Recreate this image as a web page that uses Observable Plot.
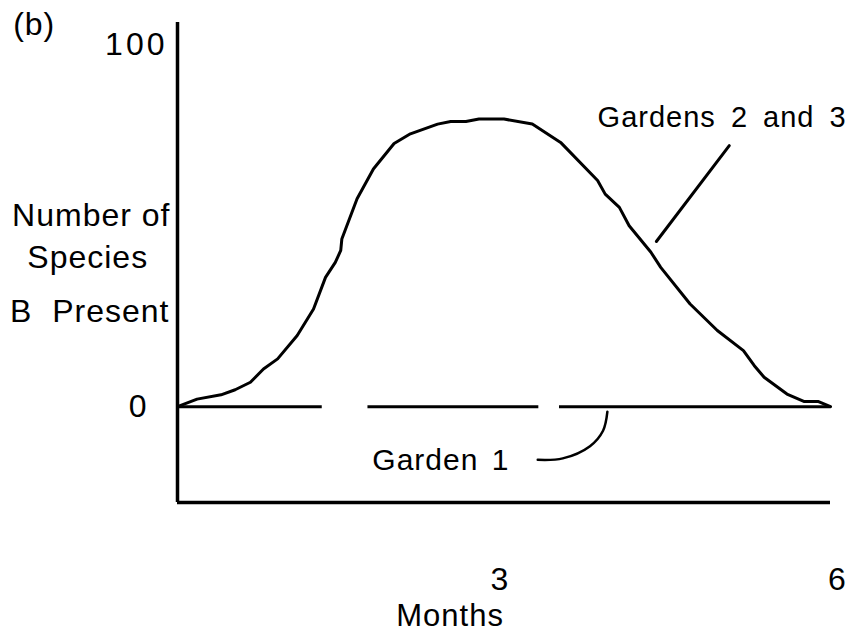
<!DOCTYPE html>
<html>
<head>
<meta charset="utf-8">
<script src="https://cdn.jsdelivr.net/npm/d3@7"></script>
<script src="https://cdn.jsdelivr.net/npm/@observablehq/plot@0.6"></script>
<style>
  html, body { margin: 0; padding: 0; background: #fff; }
  svg text { letter-spacing: 1px; }
</style>
</head>
<body>
<div id="chart"></div>
<script>
// Gardens 2 and 3: months vs number of species B present
const months = [0, 0.18, 0.40, 0.53, 0.67, 0.79, 0.92, 1.10, 1.25, 1.36, 1.45, 1.50, 1.51, 1.65, 1.80, 1.99, 2.14, 2.39, 2.51, 2.65, 2.77, 3.00, 3.26, 3.52, 3.86, 3.93, 4.06, 4.15, 4.35, 4.44, 4.71, 4.96, 5.20, 5.30, 5.39, 5.60, 5.76, 5.89, 6.0];
const species = [0, 2.1, 3.3, 4.7, 6.8, 10.5, 13.3, 19.8, 27.2, 36.0, 40.2, 43.5, 46.7, 57.9, 66.2, 73.3, 76.0, 78.7, 79.4, 79.4, 80.1, 80.1, 78.7, 73.6, 63.0, 59.2, 55.5, 50.4, 43.0, 38.8, 28.6, 21.2, 15.6, 11.4, 8.2, 3.5, 1.4, 1.4, 0];

// Garden 1: zero throughout, drawn as broken segments
const garden1Start = [0, 1.75, 3.51];
const garden1End = [1.33, 3.32, 6.0];

// Axis ticks
const xTicks = [3, 6];
const yTicks = [100, 0];

// Annotation leaders (data units)
const leader23X = [5.07, 4.40];
const leader23Y = [72.7, 46.0];
const leader1X = [3.31, 3.54, 3.79, 3.91, 3.95];
const leader1Y = [-14.8, -14.4, -11.0, -6.7, -1.4];

// Labels
const yLabelLines = ["Number of", "Species", "B Present"];
const yLabelX = [-1.52, -1.38, -1.54];
const yLabelY = [53.2, 41.5, 26.5];

const curve = months.map((m, i) => ({x: m, y: species[i]}));
const g1 = garden1Start.map((s, i) => ({x1: s, x2: garden1End[i]}));
const lead23 = leader23X.map((x, i) => ({x, y: leader23Y[i]}));
const lead1 = leader1X.map((x, i) => ({x, y: leader1Y[i]}));
const yLab = yLabelLines.map((t, i) => ({t, x: yLabelX[i], y: yLabelY[i]}));

const yMin = -26.7, yMax = 107;
const FS = 32;

const chart = Plot.plot({
  width: 848,
  height: 636,
  marginLeft: 177,
  marginRight: 18,
  marginTop: 22,
  marginBottom: 134,
  style: {fontFamily: "'Liberation Sans', Arial, sans-serif", fontSize: FS + "px", color: "#000", background: "#fff", overflow: "visible"},
  x: {domain: [0, 6]},
  y: {domain: [yMin, yMax]},
  marks: [
    Plot.ruleX([0], {y1: yMin, y2: yMax, stroke: "#000", strokeWidth: 3.5}),
    Plot.ruleY([yMin], {x1: 0, x2: 6, stroke: "#000", strokeWidth: 3.5}),
    Plot.axisX({ticks: [xTicks[0]], tickSize: 0, tickPadding: 65, dx: -4, label: null, fontSize: FS, tickFormat: d => String(d)}),
    Plot.axisX({ticks: [xTicks[1]], tickSize: 0, tickPadding: 65, dx: 7, label: null, fontSize: FS, tickFormat: d => String(d)}),
    Plot.axisY({ticks: [yTicks[0]], tickSize: 0, tickPadding: 10, dy: -3, label: null, fontSize: FS, tickFormat: d => String(d)}),
    Plot.axisY({ticks: [yTicks[1]], tickSize: 0, tickPadding: 30, label: null, fontSize: FS, tickFormat: d => String(d)}),
    Plot.ruleY(g1, {y: 0, x1: "x1", x2: "x2", stroke: "#000", strokeWidth: 3}),
    Plot.line(curve, {x: "x", y: "y", stroke: "#000", strokeWidth: 3, curve: "linear"}),
    Plot.line(lead23, {x: "x", y: "y", stroke: "#000", strokeWidth: 3}),
    Plot.line(lead1, {x: "x", y: "y", stroke: "#000", strokeWidth: 2.5, curve: "catmull-rom"}),
    Plot.text(yLab, {x: "x", y: "y", text: "t", textAnchor: "start", fontSize: FS, fill: "#000"}),
    Plot.text(["(b)"], {x: -1.51, y: 106.4, textAnchor: "start", fontSize: FS, fill: "#000"}),
    Plot.text(["Gardens 2 and 3"], {x: 3.86, y: 80.5, textAnchor: "start", fontSize: 29, fill: "#000"}),
    Plot.text(["Garden 1"], {x: 1.79, y: -15.0, textAnchor: "start", fontSize: 30, fill: "#000"}),
    Plot.text(["Months"], {x: 2.01, y: -58.2, textAnchor: "start", fontSize: 31, fill: "#000"})
  ]
});
document.getElementById("chart").appendChild(chart);

// fine typographic spacing to match the reference lettering
const spacing = {"100": ["3px", null], "B Present": [null, "10px"], "Gardens 2 and 3": [null, "6px"], "Garden 1": [null, "4px"]};
d3.select(chart).selectAll("text").each(function () {
  const s = spacing[this.textContent.trim()];
  if (s) {
    if (s[0]) this.style.letterSpacing = s[0];
    if (s[1]) this.style.wordSpacing = s[1];
  }
});
</script>
</body>
</html>
